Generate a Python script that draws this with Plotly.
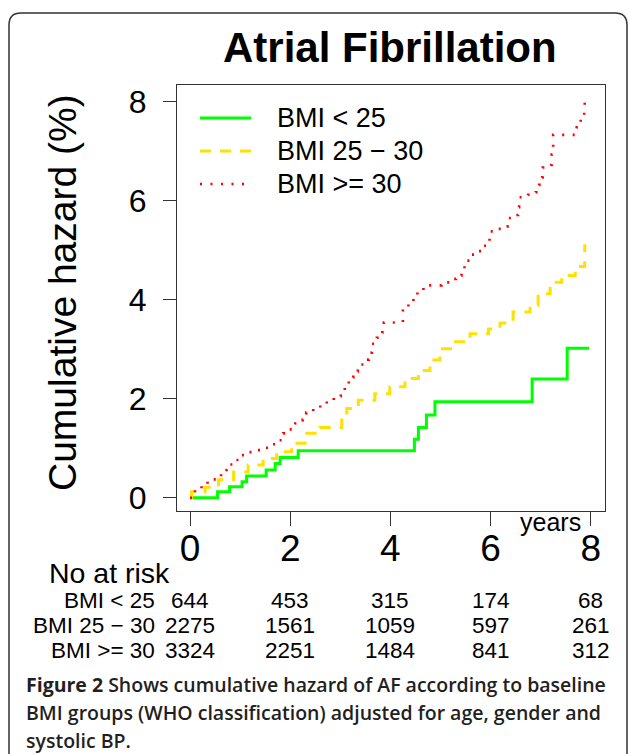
import plotly.graph_objects as go

# ---------------- data ----------------
series_names = ["BMI < 25", "BMI 25 \u2212 30", "BMI >= 30"]
series_colors = ["#00FF00", "#FFE100", "#FF0000"]

bmi_lt25_t = [0, 0.55, 0.79, 1.04, 1.13, 1.52, 1.70, 1.80, 2.16, 4.48, 4.56, 4.72, 4.89, 6.83, 7.53, 7.97]
bmi_lt25_y = [0, 0.12, 0.22, 0.32, 0.44, 0.56, 0.69, 0.81, 0.95, 1.18, 1.42, 1.67, 1.94, 2.40, 3.02, 3.02]

bmi_25_30_t = [0, 0.03, 0.30, 0.57, 0.87, 1.16, 1.46, 1.73, 2.03, 2.33, 2.59, 3.03, 3.13, 3.36, 3.69,
               3.99, 4.29, 4.56, 4.79, 4.99, 5.26, 5.59, 5.96, 6.19, 6.45, 6.79, 6.95, 7.19, 7.42, 7.69, 7.88]
bmi_25_30_y = [0, 0.12, 0.21, 0.36, 0.52, 0.66, 0.79, 0.93, 1.10, 1.30, 1.42, 1.57, 1.80, 1.97, 2.10,
               2.24, 2.41, 2.57, 2.78, 3.01, 3.15, 3.31, 3.41, 3.53, 3.75, 3.89, 4.12, 4.35, 4.49, 4.67, 5.12]

bmi_ge30_t = [0, 0.10, 0.23, 0.35, 0.62, 0.73, 0.87, 1.00, 1.15, 1.33, 1.50, 1.63, 1.78, 1.86, 1.98,
              2.10, 2.25, 2.32, 2.46, 2.60, 2.73, 2.87, 3.01, 3.09, 3.17, 3.26, 3.35, 3.47, 3.57, 3.63,
              3.73, 3.84, 3.87, 4.25, 4.36, 4.46, 4.54, 4.66, 5.02, 5.18, 5.31, 5.42, 5.48, 5.58, 5.72,
              5.82, 5.96, 5.98, 6.12, 6.29, 6.34, 6.50, 6.55, 6.57, 6.75, 6.90, 6.97, 7.03, 7.04, 7.21,
              7.22, 7.25, 7.72, 7.80, 7.87, 7.88, 7.90]
bmi_ge30_y = [0, 0.16, 0.27, 0.37, 0.56, 0.67, 0.76, 0.86, 0.92, 0.96, 1.01, 1.08, 1.16, 1.30, 1.38,
              1.50, 1.58, 1.72, 1.82, 1.88, 1.97, 2.05, 2.16, 2.27, 2.43, 2.55, 2.69, 2.79, 2.93, 3.11,
              3.23, 3.34, 3.54, 3.82, 3.93, 4.05, 4.17, 4.29, 4.35, 4.42, 4.49, 4.60, 4.79, 4.91, 4.98,
              5.09, 5.18, 5.38, 5.43, 5.48, 5.65, 5.71, 5.87, 6.07, 6.12, 6.17, 6.32, 6.47, 6.67, 6.72,
              6.93, 7.33, 7.48, 7.65, 7.78, 7.98, 8.05]

risk_years = [0, 2, 4, 6, 8]
risk_lt25 = [644, 453, 315, 174, 68]
risk_25_30 = [2275, 1561, 1059, 597, 261]
risk_ge30 = [3324, 2251, 1484, 841, 312]

x_ticks = [0, 2, 4, 6, 8]
y_ticks = [0, 2, 4, 6, 8]

title_text = "Atrial Fibrillation"
y_title = "Cumulative hazard (%)"
caption_lines = [
    "<b>Figure 2</b> Shows cumulative hazard of AF according to baseline",
    "BMI groups (WHO classification) adjusted for age, gender and",
    "systolic BP.",
]

# ---------------- layout helpers ----------------
W, H = 629, 754
ML, MR, MT, MB = 177, 24, 85, 243
PW = W - ML - MR
PH = H - MT - MB


def px(xp):
    return (xp - ML) / PW


def py(yp):
    return (H - MB - yp) / PH


FONT = "Liberation Sans, Arial, Helvetica, sans-serif"
dashes = ["solid", "11px,9px", "2px,8.5px"]
widths = [3, 3, 2.6]

fig = go.Figure()
for t, y, name, col, dsh, w in zip([bmi_lt25_t, bmi_25_30_t, bmi_ge30_t],
                                   [bmi_lt25_y, bmi_25_30_y, bmi_ge30_y],
                                   series_names, series_colors, dashes, widths):
    fig.add_trace(go.Scatter(x=t, y=y, mode="lines", name=name, showlegend=False,
                             line=dict(color=col, width=w, shape="hv", dash=dsh)))

ann = []
shapes = []
ann.append(dict(text="<b>" + title_text + "</b>", x=px(390), y=py(47), xref="paper", yref="paper",
                xanchor="center", yanchor="middle", showarrow=False,
                font=dict(size=42, family=FONT, color="black")))
ann.append(dict(text=y_title, x=px(62), y=py(293), xref="paper", yref="paper", textangle=-90,
                xanchor="center", yanchor="middle", showarrow=False,
                font=dict(size=39, family=FONT, color="black")))
ann.append(dict(text="years", x=7.2, y=py(522), xref="x", yref="paper",
                xanchor="center", yanchor="middle", showarrow=False,
                font=dict(size=25, family=FONT, color="black")))
ann.append(dict(text="No at risk", x=px(47), y=py(573), xref="paper", yref="paper",
                xanchor="left", yanchor="middle", showarrow=False,
                font=dict(size=28.5, family=FONT, color="black")))

# legend (inside the plot, top-left)
leg_y = [118, 151, 184]
for name, col, dsh, w, ly in zip(series_names, series_colors, dashes, widths, leg_y):
    shapes.append(dict(type="line", xref="paper", yref="paper", x0=px(200), x1=px(251),
                       y0=py(ly), y1=py(ly), line=dict(color=col, width=w, dash=dsh)))
    ann.append(dict(text=name, x=px(275), y=py(ly), xref="paper", yref="paper",
                    xanchor="left", yanchor="middle", showarrow=False,
                    font=dict(size=27, family=FONT, color="black")))

row_y = [600, 625, 650]
for name, vals, ry in zip(series_names, [risk_lt25, risk_25_30, risk_ge30], row_y):
    ann.append(dict(text=name, x=px(157), y=py(ry), xref="paper", yref="paper",
                    xanchor="right", yanchor="middle", showarrow=False,
                    font=dict(size=22.5, family=FONT, color="black")))
    for yr, v in zip(risk_years, vals):
        ann.append(dict(text=str(v), x=yr, y=py(ry), xref="x", yref="paper",
                        xanchor="center", yanchor="middle", showarrow=False,
                        font=dict(size=22.5, family=FONT, color="black")))
cap_y = [684, 712, 740]
for line, cy in zip(caption_lines, cap_y):
    ann.append(dict(text=line, x=px(24), y=py(cy), xref="paper", yref="paper",
                    xanchor="left", yanchor="middle", showarrow=False,
                    font=dict(size=19.5, family="Open Sans, sans-serif", color="#231f20", weight=600)))

# rounded border around the whole figure
x0, x1 = px(9), px(627)
y0, y1 = py(13), py(790)
rx, ry = 12 / PW, 12 / PH
path = (f"M{x0 + rx},{y0} L{x1 - rx},{y0} Q{x1},{y0} {x1},{y0 - ry} "
        f"L{x1},{y1 + ry} Q{x1},{y1} {x1 - rx},{y1} L{x0 + rx},{y1} Q{x0},{y1} {x0},{y1 + ry} "
        f"L{x0},{y0 - ry} Q{x0},{y0} {x0 + rx},{y0} Z")
shapes.append(dict(type="path", path=path, xref="paper", yref="paper",
                   line=dict(color="#333333", width=1.5), layer="below"))

fig.update_layout(
    width=W, height=H,
    margin=dict(l=ML, r=MR, t=MT, b=MB),
    paper_bgcolor="white", plot_bgcolor="white",
    font=dict(family=FONT, color="black"),
    annotations=ann,
    shapes=shapes,
    showlegend=False,
    xaxis=dict(range=[-0.26, 8.285], tickvals=x_ticks, ticktext=[str(t) for t in x_ticks],
               ticks="outside", ticklen=14, tickwidth=1.3, tickcolor="#333",
               showline=True, mirror=True, linecolor="#333", linewidth=1.3,
               showgrid=False, zeroline=False, tickfont=dict(size=37, family=FONT, color="black"),
               ticklabelstandoff=-10),
    yaxis=dict(range=[-0.269, 8.337], tickvals=y_ticks, ticktext=[str(t) for t in y_ticks],
               ticks="outside", ticklen=13, tickwidth=1.3, tickcolor="#333",
               showline=True, mirror=True, linecolor="#333", linewidth=1.3,
               showgrid=False, zeroline=False, tickfont=dict(size=32, family=FONT, color="black"),
               ticklabelstandoff=10),
)

fig.write_html("out.html", config={"displayModeBar": False},
               post_script="document.body.style.margin='0';")
